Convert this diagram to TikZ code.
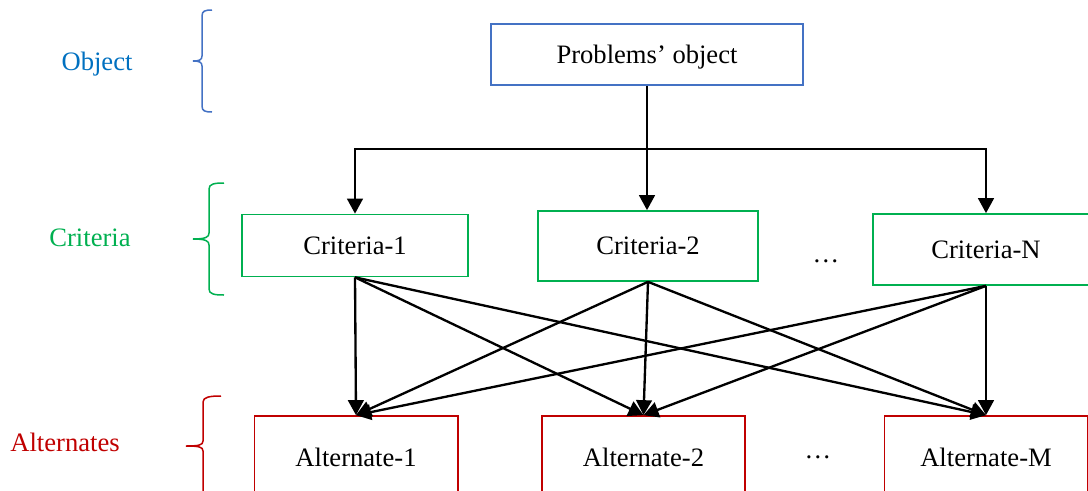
\documentclass[tikz,border=0pt]{standalone}
\usepackage{fontspec}
\setmainfont{Liberation Serif}
\usetikzlibrary{arrows.meta}
\usetikzlibrary{positioning}

\definecolor{objblue}{RGB}{68,114,196}
\definecolor{objtext}{RGB}{0,112,192}
\definecolor{critgreen}{RGB}{0,176,80}
\definecolor{altred}{RGB}{192,0,0}

\begin{document}
\begin{tikzpicture}[x=0.3mm,y=-0.3mm,font=\fontsize{22.7}{27}\selectfont,
                      >={Triangle[length=4.5mm,width=4.7mm]},
                      box/.style={draw,line width=0.5mm,inner sep=0,text height=15pt,text depth=0pt},
                      objbox/.style={box,draw=objblue,minimum width=93.6mm,minimum height=18.3mm},
                      critbox/.style={box,draw=critgreen,minimum width=67.8mm,minimum height=18.6mm},
                      altbox/.style={box,draw=altred,minimum width=61mm,minimum height=25.2mm},
                      level/.style={inner sep=0,text height=15pt,text depth=0pt},
                      link/.style={->,line width=0.7mm},
                      brace/.style={line width=0.45mm},
                      ]
    \clip (0,0) rectangle (1088,490);

    % levels on the left
    \node[level,text=objtext] (objlabel) at (97,62) {Object};
    \node[level,text=critgreen] (critlabel) at (90,238) {Criteria};
    \node[level,text=altred] (altlabel) at (65,443) {Alternates};

    \draw[brace,objblue] (212,10) .. controls (205,10) and (202,11) .. (202,16) -- (202,56)
        .. controls (202,60) and (199,61) .. (193,61) .. controls (199,61) and (202,62) .. (202,66)
        -- (202,106) .. controls (202,111) and (205,112) .. (212,112);
    \draw[brace,critgreen] (224,183) .. controls (214,183) and (209,184) .. (209,189) -- (209,233)
        .. controls (209,237) and (206,239) .. (193,239) .. controls (206,239) and (209,241) .. (209,245)
        -- (209,289) .. controls (209,294) and (214,295) .. (224,295);
    \draw[brace,altred] (221,396) .. controls (210,396) and (203,397) .. (203,402) -- (203,441)
        .. controls (203,445) and (199,446) .. (186,446) .. controls (199,446) and (203,447) .. (203,451)
        -- (203,500);

    % boxes
    \node[objbox] (obj) at (647,54.5) {Problems’ object};
    \node[critbox] (crit1) at (355,245.5) {Criteria-1};
    \node[critbox,minimum width=66mm,minimum height=21mm] (crit2) at (648,246) {Criteria-2};
    \node[critbox,minimum height=21.3mm] (critN) at (986,249.5) {Criteria-N};
    \node (critdots) at (826,261) {…};

    \node[altbox] (alt1) at (356,458) {Alternate-1};
    \node[altbox] (alt2) at (643.5,458) {Alternate-2};
    \node[altbox] (altM) at (986,458) {Alternate-M};
    \node (altdots) at (818,457) {…};

    % object to criteria
    \coordinate (split) at (obj.south |- 0,149);
    \draw[line width=0.7mm] (obj.south) -- (split);
    \draw[link] (split) -| (crit1.north);
    \draw[link] (split) -- (split |- crit2.north);
    \draw[link] (split) -| (critN.north);

    % criteria to alternates
    \foreach \c in {crit1,crit2,critN}
      \foreach \a in {alt1,alt2,altM}
        \draw[link] (\c.south) -- (\a.north);
  \end{tikzpicture}
\end{document}
